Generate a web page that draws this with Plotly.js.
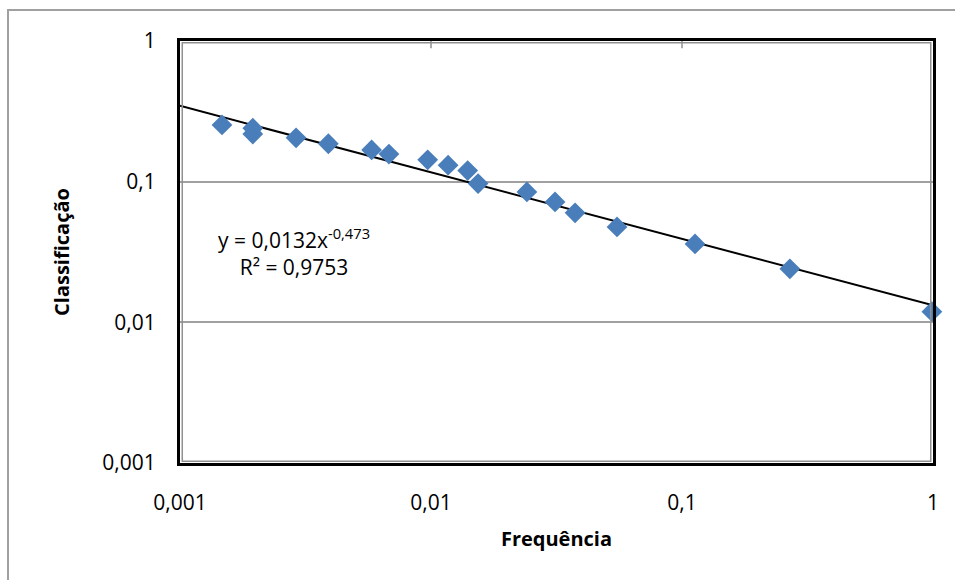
<!DOCTYPE html>
<html>
<head>
<meta charset="utf-8">
<script src="https://cdn.plot.ly/plotly-3.0.1.min.js"></script>
<style>html,body{margin:0;padding:0;background:#fff;}#chart{width:955px;height:580px;}</style>
</head>
<body>
<div id="chart"></div>
<script>
// Data (Frequência vs Classificação, log-log)
const frequencia = [0.00147, 0.00195, 0.00195, 0.0029, 0.0039, 0.0058, 0.0068, 0.0097, 0.0117, 0.0140, 0.0154, 0.0241, 0.0312, 0.0375, 0.0551, 0.1127, 0.269, 0.99];
const classificacao = [0.253, 0.240, 0.218, 0.205, 0.186, 0.168, 0.157, 0.143, 0.131, 0.120, 0.097, 0.0845, 0.0718, 0.060, 0.0477, 0.0361, 0.024, 0.0119];

// Power trendline as displayed: y = 0,0132 x^-0,473
const trendA = 0.0132;
const trendB = -0.473;
const trendX = [0.001, 1];
const trendY = trendX.map(function (x) { return trendA * Math.pow(x, trendB); });

const tickVals = [0.001, 0.01, 0.1, 1];
const tickText = ['0,001', '0,01', '0,1', '1'];

const font = 'Open Sans, Noto Sans, Liberation Sans, sans-serif';

const traces = [
  {
    x: trendX, y: trendY, type: 'scatter', mode: 'lines',
    line: {color: '#000000', width: 2}, hoverinfo: 'skip', showlegend: false
  },
  {
    x: frequencia, y: classificacao, type: 'scatter', mode: 'markers',
    marker: {symbol: 'diamond', size: 16, color: '#4A7EBB', line: {width: 0}},
    showlegend: false, cliponaxis: false
  }
];

const layout = {
  width: 955, height: 580,
  margin: {l: 180, r: 22, t: 41, b: 117},
  paper_bgcolor: '#ffffff', plot_bgcolor: '#ffffff',
  font: {family: font, color: '#000000', size: 21},
  showlegend: false,
  xaxis: {
    type: 'log', range: [-3, 0],
    tickmode: 'array', tickvals: tickVals, ticktext: tickText,
    showgrid: false, zeroline: false,
    showline: true, linecolor: '#000000', linewidth: 3, mirror: true,
    ticks: '', ticklabelstandoff: 19,
    tickfont: {family: font, size: 21, color: '#000000'},
    title: {text: 'Frequência', font: {family: font, size: 20, color: '#000000', weight: 'bold'}, standoff: 17},
    automargin: false
  },
  yaxis: {
    type: 'log', range: [-3, 0],
    tickmode: 'array', tickvals: tickVals, ticktext: tickText,
    showgrid: true, gridcolor: '#a0a0a0', gridwidth: 2, zeroline: false,
    showline: true, linecolor: '#000000', linewidth: 3, mirror: true,
    ticks: '', ticklabelstandoff: 17,
    tickfont: {family: font, size: 21, color: '#000000'},
    title: {text: 'Classificação', font: {family: font, size: 20, color: '#000000', weight: 'bold'}, standoff: 28},
    automargin: false
  },
  annotations: [
    {
      xref: 'paper', yref: 'paper', x: 0.152, y: 0.50,
      xanchor: 'center', yanchor: 'middle', align: 'center', showarrow: false,
      text: 'y = 0,0132x<sup>-0,473</sup><br>R² = 0,9753',
      font: {family: font, size: 21, color: '#000000'}
    }
  ],
  shapes: [
    // outer chart frame (left and top visible)
    {type: 'rect', xref: 'paper', yref: 'paper', x0: -0.2284, x1: 1.06, y0: -0.36, y1: 1.0735,
     line: {color: '#a0a0a0', width: 2}, fillcolor: 'rgba(0,0,0,0)', layer: 'below'},
    // inner gray border of plot area
    {type: 'rect', xref: 'paper', yref: 'paper', x0: 0.003, x1: 0.997, y0: 0.004, y1: 0.996,
     line: {color: '#909090', width: 1.5}, fillcolor: 'rgba(0,0,0,0)', layer: 'above'},
    // small gray tick marks at top edge
    {type: 'line', xref: 'x', yref: 'paper', x0: 0.01, x1: 0.01, y0: 1, y1: 0.983,
     line: {color: '#909090', width: 1.5}},
    {type: 'line', xref: 'x', yref: 'paper', x0: 0.1, x1: 0.1, y0: 1, y1: 0.983,
     line: {color: '#909090', width: 1.5}}
  ]
};

Plotly.newPlot('chart', traces, layout, {displayModeBar: false, staticPlot: true});
</script>
</body>
</html>
